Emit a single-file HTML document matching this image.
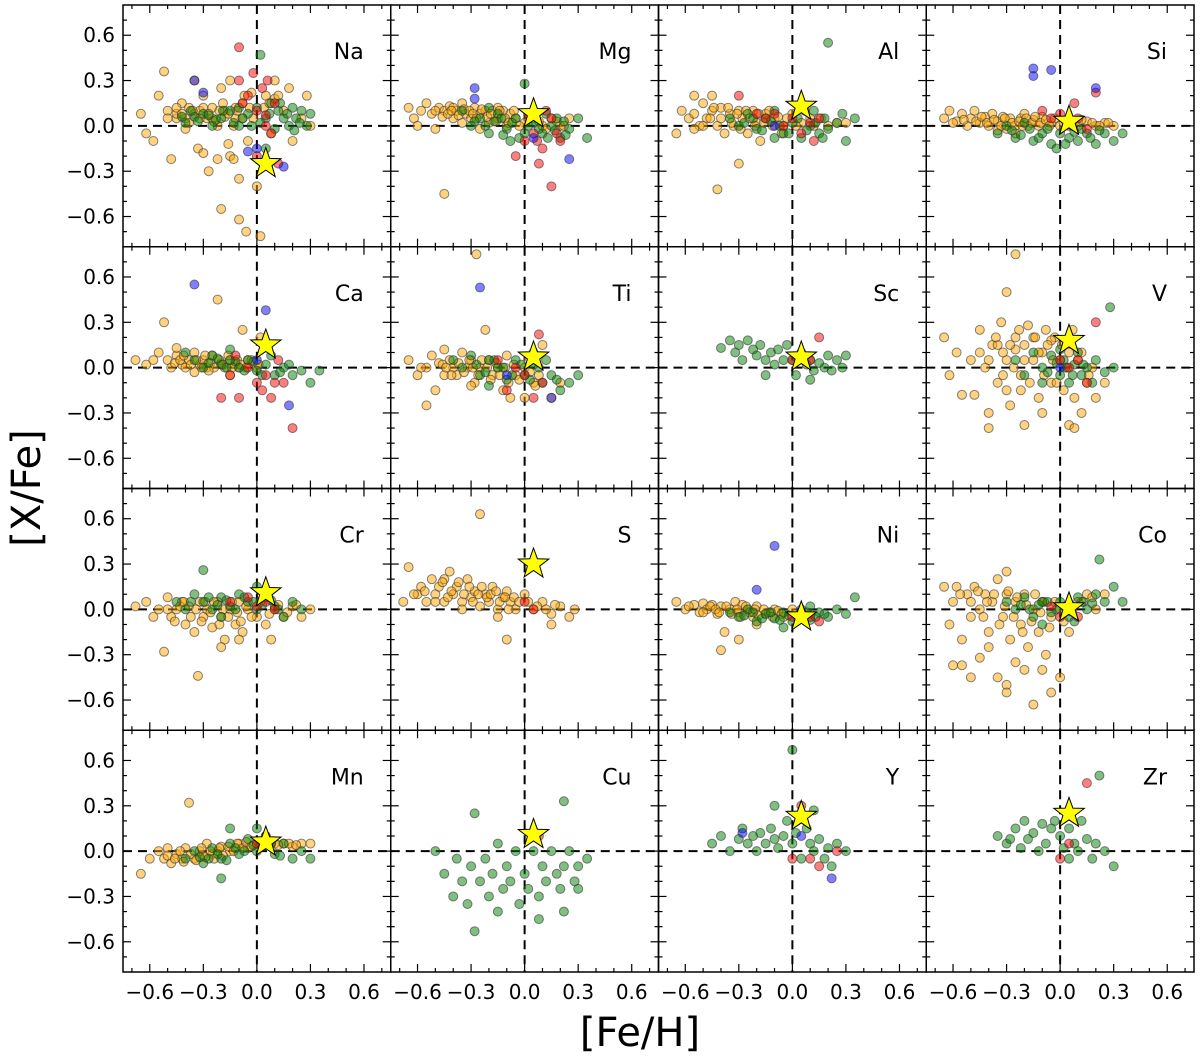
<!DOCTYPE html>
<html><head><meta charset="utf-8"><style>
body{margin:0;background:#fff}
svg{display:block;font-family:"DejaVu Sans","Liberation Sans",sans-serif}
</style></head><body>
<svg id="chart" width="1200" height="1057" viewBox="0 0 1200 1057" xmlns="http://www.w3.org/2000/svg">
<text x="40" y="488" font-size="40" text-anchor="middle" transform="rotate(-90 40 488)">[X/Fe]</text>
<text x="640" y="1046" font-size="40" text-anchor="middle">[Fe/H]</text>
</svg>
<script>
const elements = ["Na","Mg","Al","Si","Ca","Ti","Sc","V","Cr","S","Ni","Co","Mn","Cu","Y","Zr"];
const xTicks = [-0.6,-0.3,0.0,0.3,0.6];
const yTicks = [-0.6,-0.3,0.0,0.3,0.6];
const xTickLabels = ["\u22120.6","\u22120.3","0.0","0.3","0.6"];
const yTickLabels = ["\u22120.6","\u22120.3","0.0","0.3","0.6"];
const starX = [0.05,0.05,0.05,0.05,0.05,0.05,0.05,0.05,0.05,0.05,0.05,0.05,0.05,0.05,0.05,0.05];
const starY = [-0.25,0.08,0.13,0.03,0.15,0.07,0.07,0.18,0.11,0.30,-0.05,0.01,0.06,0.11,0.23,0.25];
// flat [x,y,...] per panel
const orange = [
[-0.65,0.08,-0.62,-0.05,-0.55,0.2,-0.52,0.36,-0.5,0.1,-0.45,0.05,-0.42,0.15,-0.4,-0.02,-0.38,0.12,-0.35,0.08,-0.33,-0.15,-0.3,0.2,-0.28,0.05,-0.27,-0.3,-0.25,0.12,-0.22,0.0,-0.2,0.25,-0.2,-0.55,-0.18,0.1,-0.15,-0.2,-0.15,0.3,-0.12,0.05,-0.1,-0.35,-0.1,-0.62,-0.08,0.15,-0.06,-0.7,-0.05,-0.1,-0.03,0.22,0.0,-0.4,0.02,-0.73,0.05,0.2,0.08,-0.05,0.1,0.3,0.15,0.1,0.18,0.25,0.2,-0.1,0.25,0.05,0.28,0.2,0.3,0.0,-0.48,-0.22,-0.58,-0.1,-0.35,0.3,-0.45,0.08,-0.4,0.05,-0.32,0.1,-0.25,0.05,-0.18,0.06,-0.12,0.12,-0.3,-0.18,-0.22,-0.22],
[-0.65,0.12,-0.62,0.05,-0.55,0.15,-0.52,0.08,-0.48,0.12,-0.45,0.1,-0.42,0.13,-0.4,0.05,-0.38,0.1,-0.35,0.15,-0.33,0.08,-0.3,0.05,-0.28,0.12,-0.25,0.08,-0.22,0.1,-0.2,0.02,-0.18,0.1,-0.15,0.05,-0.12,0.1,-0.1,0.0,-0.08,0.08,-0.05,0.05,0.0,0.02,0.05,0.05,0.1,0.0,0.15,0.05,0.2,0.0,0.25,0.05,-0.45,-0.45,-0.5,-0.02,-0.6,0.0,-0.35,0.02,-0.25,-0.02,-0.15,0.12,-0.4,0.12],
[-0.65,-0.05,-0.62,0.1,-0.58,0.05,-0.55,0.2,-0.52,0.0,-0.5,0.15,-0.48,0.05,-0.45,0.1,-0.42,0.0,-0.4,0.12,-0.38,-0.05,-0.35,0.08,-0.33,0.0,-0.3,0.1,-0.28,0.05,-0.25,-0.05,-0.22,0.1,-0.2,0.02,-0.18,-0.1,-0.15,0.08,-0.1,0.05,-0.05,0.0,0.0,0.08,0.05,0.02,0.1,0.05,0.2,0.0,0.3,0.02,-0.42,-0.42,-0.3,-0.25,-0.45,0.2,-0.55,-0.02],
[-0.65,0.05,-0.62,0.1,-0.58,0.03,-0.55,0.08,-0.52,0.0,-0.5,0.05,-0.48,0.1,-0.45,0.02,-0.42,0.06,-0.4,0.0,-0.38,0.08,-0.35,0.03,-0.32,0.06,-0.3,-0.02,-0.28,0.05,-0.25,0.0,-0.22,0.05,-0.2,0.08,-0.18,0.0,-0.15,0.04,-0.12,0.0,-0.1,0.06,-0.05,0.02,0.0,0.0,0.05,0.05,0.1,0.0,0.15,0.03,0.2,0.0,0.25,0.02,0.3,0.0,-0.25,-0.05,-0.35,-0.03],
[-0.68,0.05,-0.62,0.02,-0.55,0.1,-0.52,0.3,-0.5,0.05,-0.48,0.0,-0.45,0.08,-0.42,0.02,-0.4,0.0,-0.38,0.05,-0.35,0.1,-0.32,0.02,-0.3,0.05,-0.28,0.0,-0.25,0.08,-0.22,0.45,-0.2,0.03,-0.18,0.0,-0.15,0.05,-0.12,0.02,-0.1,0.0,-0.08,0.25,-0.05,0.05,0.0,0.0,0.02,0.2,-0.15,-0.05,-0.35,-0.03,-0.45,0.13],
[-0.65,0.05,-0.6,-0.05,-0.55,0.0,-0.52,0.08,-0.5,-0.15,-0.48,0.03,-0.45,-0.05,-0.42,0.05,-0.4,0.0,-0.38,-0.05,-0.35,0.1,-0.32,0.0,-0.3,0.05,-0.28,-0.1,-0.25,0.0,-0.22,0.25,-0.2,0.05,-0.18,-0.05,-0.15,0.0,-0.12,-0.15,-0.1,0.08,-0.08,-0.2,-0.05,-0.05,0.0,0.0,0.02,0.05,0.05,-0.1,0.08,-0.05,0.1,0.15,0.15,-0.2,0.2,-0.1,-0.27,0.75,-0.55,-0.25,-0.3,-0.12,0.0,-0.2,-0.45,0.12],
[],
[-0.65,0.2,-0.62,-0.05,-0.58,0.1,-0.55,-0.18,-0.5,0.05,-0.48,-0.18,-0.45,0.25,-0.42,0.0,-0.4,-0.3,-0.38,0.15,-0.35,-0.1,-0.33,0.3,-0.3,0.05,-0.28,-0.25,-0.25,0.2,-0.22,-0.05,-0.2,0.15,-0.2,-0.38,-0.18,0.28,-0.15,0.05,-0.12,-0.2,-0.1,0.1,-0.08,0.25,-0.05,-0.1,-0.03,0.2,0.0,0.05,0.02,-0.15,0.05,0.1,0.08,-0.2,0.1,0.05,0.12,-0.3,0.15,-0.1,0.18,0.0,0.2,-0.2,0.25,-0.1,-0.35,0.15,-0.3,0.5,-0.25,0.75,-0.4,-0.4,-0.1,-0.3,0.05,-0.38,0.08,-0.4,-0.15,0.2,-0.25,0.12,-0.05,0.18,-0.3,-0.15],
[-0.68,0.02,-0.62,0.05,-0.58,-0.05,-0.55,0.0,-0.52,-0.28,-0.5,0.08,-0.48,-0.05,-0.45,0.0,-0.42,0.05,-0.4,-0.1,-0.38,0.02,-0.35,-0.15,-0.32,0.05,-0.3,-0.05,-0.28,0.0,-0.25,-0.12,-0.22,0.05,-0.2,-0.05,-0.18,-0.2,-0.15,0.0,-0.12,-0.1,-0.1,0.05,-0.08,-0.15,-0.05,0.0,0.0,-0.05,0.05,-0.1,0.1,0.0,0.15,-0.05,0.2,0.02,0.25,-0.05,0.3,0.0,-0.33,-0.44,-0.2,-0.25,-0.1,-0.2,0.08,-0.2],
[-0.68,0.05,-0.65,0.28,-0.6,0.1,-0.58,0.15,-0.55,0.05,-0.52,0.2,-0.5,0.1,-0.48,0.15,-0.45,0.05,-0.42,0.25,-0.4,0.1,-0.38,0.15,-0.35,0.05,-0.32,0.2,-0.3,0.08,-0.28,0.12,-0.25,0.02,-0.22,0.1,-0.2,0.05,-0.18,0.15,-0.15,0.0,-0.12,0.08,-0.1,0.12,-0.08,0.05,-0.05,0.0,0.0,0.1,0.05,0.0,0.1,0.05,0.15,-0.03,0.2,0.02,0.25,-0.05,0.28,0.0,-0.25,0.63,-0.15,-0.05,-0.1,-0.2,-0.35,0.0,0.15,-0.1,-0.45,0.2],
[-0.65,0.05,-0.6,0.0,-0.55,0.03,-0.52,-0.02,-0.5,0.04,-0.48,0.0,-0.45,0.03,-0.42,-0.03,-0.4,0.02,-0.38,-0.15,-0.35,0.0,-0.32,0.05,-0.3,-0.02,-0.28,0.03,-0.25,0.0,-0.22,-0.05,-0.2,0.02,-0.15,-0.03,-0.1,0.0,-0.05,-0.05,0.0,0.0,0.1,-0.03,-0.4,-0.27,-0.3,-0.2,-0.2,-0.1],
[-0.65,0.15,-0.62,-0.1,-0.6,0.05,-0.58,0.15,-0.55,-0.2,-0.52,0.1,-0.5,-0.05,-0.48,0.15,-0.45,0.0,-0.42,0.1,-0.4,-0.15,-0.38,0.05,-0.35,0.2,-0.32,-0.05,-0.3,0.1,-0.28,-0.2,-0.25,0.05,-0.22,-0.1,-0.2,0.1,-0.18,-0.25,-0.15,0.0,-0.12,-0.15,-0.1,0.05,-0.08,-0.3,-0.05,-0.05,0.0,0.0,0.05,-0.15,0.1,0.05,0.15,0.1,0.2,0.0,0.25,0.1,-0.55,-0.37,-0.5,-0.45,-0.45,-0.32,-0.35,-0.45,-0.3,-0.5,-0.3,-0.55,-0.2,-0.4,-0.15,-0.63,-0.1,-0.4,-0.05,-0.55,0.0,-0.45,-0.25,-0.35,-0.4,-0.25,-0.6,-0.37,-0.3,0.25],
[-0.65,-0.15,-0.6,-0.05,-0.55,0.0,-0.52,-0.05,-0.5,0.02,-0.48,-0.08,-0.45,-0.02,-0.42,-0.05,-0.4,0.02,-0.38,0.32,-0.35,-0.05,-0.32,0.0,-0.3,-0.03,-0.28,0.05,-0.25,-0.02,-0.22,0.0,-0.2,0.03,-0.15,0.0,-0.1,0.05,-0.05,0.02,0.0,0.05,0.05,0.08,0.1,0.05,0.15,0.05,0.2,0.03,0.25,0.05,0.3,0.05],
[],[],[]
];
// additional dense-band points read from the crowded cores
const orangeCore = [
[-0.5,0.05,-0.45,0.12,-0.42,0.08,-0.38,0.02,-0.36,0.1,-0.32,0.05,-0.3,0.12,-0.27,0.08,-0.24,0.03,-0.21,0.1,-0.19,0.15,-0.16,0.08,-0.13,0.0,-0.11,0.1,-0.08,0.05,-0.07,0.2,-0.04,0.12,-0.02,0.05,0.04,0.12,0.07,0.15,0.1,0.18,0.12,0.2,-0.16,-0.12,-0.13,-0.22],
[-0.58,0.1,-0.5,0.1,-0.46,0.06,-0.43,0.08,-0.41,0.1,-0.37,0.07,-0.34,0.11,-0.31,0.1,-0.29,0.08,-0.27,0.05,-0.24,0.11,-0.21,0.06,-0.19,0.08,-0.16,0.03,-0.14,0.1,-0.11,0.05,-0.09,0.02,-0.06,0.1,-0.03,0.0,0.02,0.08,0.08,0.03,0.12,-0.02,0.18,0.03,0.22,0.0],
[-0.55,0.08,-0.5,0.0,-0.46,0.05,-0.44,0.12,-0.4,0.05,-0.36,0.12,-0.34,0.02,-0.31,0.08,-0.29,-0.02,-0.26,0.1,-0.24,0.05,-0.21,0.0,-0.19,0.08,-0.16,0.02,-0.13,0.1,-0.11,0.0,-0.08,0.06,-0.06,-0.05,-0.03,0.05,0.02,0.0,0.07,0.1,0.12,0.0,0.16,0.05,0.25,0.02],
[-0.6,0.02,-0.54,0.04,-0.47,0.03,-0.44,0.06,-0.41,0.02,-0.37,0.04,-0.33,0.0,-0.31,0.05,-0.27,0.02,-0.23,0.03,-0.21,0.0,-0.19,0.05,-0.16,0.02,-0.14,0.06,-0.11,0.02,-0.08,0.04,-0.06,0.0,-0.03,0.05,0.02,0.02,0.07,0.0,0.12,0.04,0.18,0.02,0.22,0.0,0.27,0.02],
[-0.58,0.05,-0.46,0.03,-0.43,0.05,-0.41,0.08,-0.37,0.02,-0.34,0.05,-0.31,0.0,-0.29,0.08,-0.26,0.03,-0.24,0.0,-0.21,0.05,-0.19,0.02,-0.16,0.08,-0.14,0.0,-0.11,0.05,-0.09,0.02,-0.06,0.0,-0.03,0.05,0.01,0.02,-0.27,-0.02],
[-0.58,0.0,-0.46,0.02,-0.44,0.0,-0.41,-0.05,-0.37,0.03,-0.34,-0.03,-0.31,0.05,-0.29,0.0,-0.26,-0.05,-0.24,0.05,-0.21,0.0,-0.19,-0.08,-0.16,0.03,-0.14,-0.05,-0.11,0.0,-0.09,-0.1,-0.06,0.02,-0.03,-0.08,0.03,-0.03,0.06,-0.12],
[],
[-0.45,0.1,-0.4,0.05,-0.36,0.2,-0.32,-0.05,-0.28,0.15,-0.26,0.0,-0.23,0.25,-0.2,0.05,-0.17,-0.1,-0.14,0.2,-0.12,0.1,-0.09,-0.05,-0.07,0.15,-0.04,0.05,-0.02,-0.1,0.01,0.15,0.04,0.0,0.07,0.25,0.12,0.1,0.16,-0.05,-0.22,-0.15,-0.32,0.1],
[-0.5,0.0,-0.46,-0.08,-0.43,0.02,-0.41,0.05,-0.37,-0.05,-0.34,0.0,-0.31,-0.08,-0.29,0.05,-0.26,-0.02,-0.24,0.05,-0.21,-0.1,-0.19,0.0,-0.16,-0.05,-0.14,0.05,-0.11,-0.02,-0.09,-0.08,-0.06,0.02,-0.03,-0.05,0.02,0.05,0.07,-0.03,0.12,0.03,0.17,-0.02,0.22,0.03],
[-0.62,0.1,-0.56,0.12,-0.5,0.05,-0.46,0.18,-0.43,0.08,-0.41,0.12,-0.37,0.18,-0.34,0.1,-0.31,0.15,-0.29,0.05,-0.26,0.1,-0.24,0.15,-0.21,0.08,-0.19,0.1,-0.16,0.12,-0.14,0.05,-0.11,0.08,-0.09,0.0,-0.06,0.08,-0.03,0.05,0.02,0.05,0.07,0.02,0.12,0.0,0.17,0.03],
[-0.58,0.02,-0.5,-0.02,-0.46,0.02,-0.43,0.0,-0.41,-0.02,-0.37,0.02,-0.34,-0.03,-0.31,0.0,-0.29,-0.05,-0.26,0.02,-0.24,-0.02,-0.21,0.0,-0.19,-0.04,-0.16,0.0,-0.13,-0.02,-0.11,-0.05,-0.08,-0.01,-0.06,-0.03],
[-0.56,0.1,-0.5,0.05,-0.46,0.12,-0.43,-0.05,-0.41,0.05,-0.37,0.1,-0.34,-0.1,-0.31,0.02,-0.29,0.12,-0.26,-0.05,-0.24,0.08,-0.21,-0.15,-0.19,0.03,-0.16,-0.08,-0.14,0.1,-0.11,-0.02,-0.09,0.05,-0.06,-0.12,-0.03,0.05,0.02,-0.08,0.07,0.0,0.12,0.05,0.18,0.08],
[-0.5,-0.03,-0.46,-0.05,-0.43,0.0,-0.41,-0.07,-0.37,-0.02,-0.34,-0.06,-0.31,0.02,-0.29,-0.04,-0.26,0.0,-0.24,-0.05,-0.21,0.02,-0.19,-0.03,-0.16,0.03,-0.13,0.0,-0.11,0.05,-0.08,0.02,-0.06,0.06,-0.03,0.03,0.02,0.04,0.08,0.06,0.12,0.04,0.18,0.05,0.22,0.04],
[],[],[]
];
const green = [
[-0.2,0.05,-0.15,0.1,-0.1,0.0,-0.05,0.08,0.0,0.12,0.02,0.47,0.05,0.05,0.08,0.15,0.1,-0.02,0.12,0.1,0.15,0.05,0.18,0.0,0.2,0.12,0.22,0.05,0.25,0.1,-0.25,0.0,-0.3,0.08,0.05,-0.15,-0.4,0.02,-0.35,0.06,-0.1,0.12,0.28,0.0,0.3,0.08,-0.42,0.06,-0.37,0.1,-0.33,0.03,-0.27,0.07,-0.23,0.04,-0.19,0.1,-0.13,0.02,-0.08,0.05,-0.03,0.0,0.02,0.02,0.07,0.08,0.13,0.15,0.17,0.08,0.21,-0.03,0.24,0.02],
[-0.35,0.1,-0.3,0.0,-0.25,0.05,-0.2,-0.05,-0.15,0.08,-0.1,-0.02,-0.05,0.05,0.0,-0.05,0.0,0.28,0.05,0.02,0.1,-0.05,0.12,0.08,0.15,0.0,0.18,0.05,0.2,-0.08,0.22,0.03,0.25,-0.02,0.3,0.05,0.35,-0.08,-0.2,0.12,-0.08,-0.1,-0.28,0.03,-0.22,0.0,-0.17,0.03,-0.12,-0.06,-0.07,0.02,-0.03,-0.08,0.02,0.0,0.08,-0.02,0.13,-0.08,0.17,-0.03,0.23,-0.06,-0.13,0.05],
[-0.35,0.05,-0.3,0.0,-0.25,0.08,-0.2,-0.02,-0.15,0.05,-0.1,0.1,-0.05,-0.05,0.0,0.02,0.05,-0.08,0.1,0.0,0.12,0.1,0.15,-0.05,0.18,0.05,0.2,-0.02,0.25,0.02,0.3,-0.1,0.35,0.05,0.2,0.55,-0.1,-0.08,0.28,0.08,-0.27,0.02,-0.22,0.05,-0.17,-0.03,-0.12,0.03,-0.07,0.0,-0.02,-0.05,0.03,0.05,0.08,-0.03,0.13,0.02,0.17,-0.08],
[-0.35,-0.05,-0.3,0.0,-0.25,-0.08,-0.2,0.02,-0.15,-0.1,-0.1,-0.05,-0.05,-0.12,0.0,-0.05,0.05,-0.08,0.1,-0.1,0.15,-0.05,0.2,-0.12,0.25,-0.05,0.3,-0.1,0.35,-0.05,-0.02,-0.15,0.12,-0.02,-0.27,-0.03,-0.22,-0.06,-0.17,-0.02,-0.12,-0.08,-0.07,-0.02,0.03,-0.12,0.08,-0.04,0.17,-0.08,0.22,-0.03],
[-0.4,0.1,-0.35,0.05,-0.3,0.0,-0.25,0.08,-0.2,0.02,-0.15,0.05,-0.1,0.0,-0.05,0.05,0.0,-0.02,0.05,0.02,0.1,-0.05,0.15,0.0,0.2,-0.05,0.25,-0.02,0.3,-0.1,0.35,-0.02,-0.15,0.12,0.08,0.08,-0.27,0.03,-0.22,0.06,-0.17,0.0,-0.12,0.04,-0.07,-0.02,-0.02,0.04,0.03,-0.05,0.13,-0.03,0.18,0.02],
[-0.4,0.05,-0.35,0.0,-0.3,0.08,-0.25,-0.05,-0.2,0.05,-0.15,0.0,-0.1,-0.08,-0.05,0.05,0.0,-0.05,0.05,0.02,0.1,-0.1,0.15,-0.05,0.2,-0.15,0.25,-0.1,0.3,-0.05,-0.2,-0.12,0.12,0.05,-0.27,0.02,-0.22,-0.03,-0.17,0.05,-0.12,0.0,-0.07,-0.05,-0.02,0.02,0.03,-0.08,0.08,0.0,0.18,-0.08],
[-0.4,0.13,-0.35,0.18,-0.32,0.1,-0.3,0.15,-0.28,0.05,-0.25,0.18,-0.22,0.12,-0.2,0.08,-0.18,0.15,-0.15,0.05,-0.12,0.1,-0.1,0.02,-0.08,0.12,-0.05,0.05,-0.03,0.15,0.0,0.05,0.02,-0.05,0.05,0.1,0.08,0.02,0.1,0.05,0.12,-0.02,0.15,0.03,0.18,0.0,0.2,0.08,0.22,-0.02,0.25,0.05,0.28,0.0,0.3,0.08,-0.15,-0.05,0.1,-0.08],
[-0.25,0.05,-0.2,-0.05,-0.15,0.1,-0.1,0.0,-0.05,0.08,0.0,-0.05,0.02,0.05,0.05,-0.1,0.08,0.02,0.1,0.1,0.12,-0.05,0.15,0.0,0.18,-0.1,0.2,0.05,0.25,-0.03,0.3,0.0,0.28,0.4,-0.1,-0.1,0.0,0.12,-0.07,-0.03,-0.02,0.03,0.03,0.0,0.07,-0.05,0.13,0.02],
[-0.45,0.05,-0.4,0.0,-0.35,0.1,-0.3,0.05,-0.3,0.26,-0.25,0.0,-0.2,0.08,-0.15,0.02,-0.1,0.1,-0.05,0.05,0.0,0.0,0.05,0.08,0.1,0.02,0.15,-0.05,0.2,0.05,0.25,0.0,-0.2,-0.05,0.0,0.15,-0.37,0.05,-0.27,0.08,-0.22,0.03,-0.17,0.06,-0.12,0.0,-0.07,0.08,-0.02,0.05,0.03,0.03,0.08,0.06,0.12,0.0],
[],
[-0.35,-0.02,-0.3,-0.05,-0.25,0.0,-0.2,-0.08,-0.15,-0.03,-0.1,-0.06,-0.05,-0.02,0.0,-0.08,0.05,-0.04,0.1,-0.07,0.15,-0.02,0.2,-0.05,0.25,0.0,0.3,-0.03,0.35,0.08,-0.05,-0.12,0.1,0.02,-0.27,-0.04,-0.22,-0.02,-0.17,-0.06,-0.12,-0.02,-0.07,-0.07,-0.02,-0.04,0.03,-0.06,0.08,-0.02,0.13,-0.05,0.18,-0.03],
[-0.3,0.05,-0.25,0.0,-0.2,0.08,-0.15,-0.05,-0.1,0.05,-0.05,-0.02,0.0,0.05,0.05,-0.05,0.1,0.08,0.15,0.0,0.2,0.1,0.25,0.05,0.3,0.15,0.35,0.05,0.22,0.33,-0.1,-0.1,0.08,-0.08,-0.22,0.03,-0.17,0.0,-0.12,0.03,-0.07,0.05,-0.02,0.0,0.03,0.02,0.13,0.05,0.18,0.04],
[-0.4,-0.05,-0.35,0.0,-0.3,-0.08,-0.25,0.02,-0.2,-0.05,-0.15,0.05,-0.1,-0.02,-0.05,0.08,0.0,0.0,0.05,0.1,0.1,-0.02,0.15,0.05,0.2,-0.05,0.25,0.0,-0.2,-0.18,0.0,0.15,-0.15,0.15,0.3,-0.05,-0.32,-0.04,-0.27,-0.05,-0.22,-0.02,-0.17,-0.06,-0.12,0.02,-0.07,0.0,-0.02,0.04,0.03,0.03,0.08,0.05,0.13,-0.03],
[-0.5,0.0,-0.45,-0.15,-0.4,-0.3,-0.38,-0.05,-0.35,-0.2,-0.32,-0.35,-0.3,-0.1,-0.28,0.25,-0.25,-0.2,-0.22,-0.05,-0.2,-0.3,-0.18,-0.15,-0.15,-0.4,-0.15,0.05,-0.12,-0.25,-0.1,-0.1,-0.08,-0.2,-0.05,0.0,-0.03,-0.35,0.0,-0.15,0.02,-0.25,0.05,0.0,0.08,-0.3,0.1,-0.1,0.12,-0.2,0.15,0.0,0.18,-0.15,0.2,-0.25,0.22,-0.1,0.25,0.0,0.28,-0.2,0.3,-0.1,0.35,-0.05,0.22,0.33,-0.28,-0.53,0.08,-0.45,0.3,-0.25,0.22,-0.4],
[-0.45,0.05,-0.4,0.1,-0.35,0.0,-0.3,0.08,-0.28,0.15,-0.25,0.05,-0.22,0.1,-0.2,0.0,-0.18,0.12,-0.15,0.05,-0.12,0.15,-0.1,0.08,-0.08,0.02,-0.05,0.1,-0.03,0.2,0.0,0.05,0.0,0.67,0.02,0.12,0.05,-0.05,0.08,0.15,0.1,0.05,0.12,0.0,0.15,0.08,0.18,-0.05,0.2,0.02,0.22,-0.1,0.25,0.05,0.3,0.0,-0.1,0.3,0.12,0.27],
[-0.35,0.1,-0.3,0.05,-0.25,0.15,-0.22,0.02,-0.2,0.2,-0.18,0.08,-0.15,0.12,-0.12,0.0,-0.1,0.18,-0.08,0.05,-0.05,0.15,-0.03,0.2,0.0,0.1,0.02,0.02,0.05,0.15,0.08,0.05,0.1,0.0,0.12,0.2,0.15,0.08,0.18,-0.05,0.2,0.05,0.22,0.5,0.25,0.0,0.3,-0.1,0.05,-0.05,-0.28,0.08]
];
const red = [
[-0.1,0.3,-0.05,0.2,-0.1,0.52,0.0,0.1,0.03,0.25,0.05,0.0,0.08,-0.05,-0.02,0.35,0.1,0.15,0.0,-0.2,0.12,-0.25,0.05,0.07,-0.08,0.15,0.06,0.3],
[-0.05,-0.2,0.0,-0.1,0.05,-0.05,0.1,-0.15,0.12,0.1,0.15,0.05,0.18,-0.05,0.2,-0.1,0.15,-0.4,0.08,-0.25,0.02,0.05,0.07,-0.1],
[-0.15,0.05,-0.1,0.08,-0.05,0.0,0.0,0.05,0.05,-0.05,0.1,0.02,0.12,-0.1,0.15,0.05,-0.3,0.2,-0.2,0.08],
[-0.1,0.1,-0.05,0.05,0.0,0.08,0.05,0.0,0.1,0.05,0.15,-0.02,0.08,0.15,0.2,0.22],
[-0.2,-0.2,-0.15,-0.05,-0.1,-0.2,-0.05,0.0,0.0,-0.1,0.03,-0.15,0.05,-0.05,0.08,-0.2,0.1,-0.1,0.12,0.05,0.15,-0.1,0.2,-0.4,-0.12,0.08],
[-0.1,-0.15,-0.05,0.0,0.0,-0.05,0.05,0.1,0.08,0.22,0.1,-0.1,0.05,-0.2,-0.15,0.05],
[0.0,0.05,0.1,0.05,0.15,0.2],
[0.05,0.0,0.1,0.05,0.15,-0.1,0.0,0.05,0.2,0.3],
[-0.15,0.05,-0.05,0.08,0.0,0.02,0.05,0.05,0.1,0.0],
[0.0,0.05,0.05,0.0],
[0.05,-0.02,0.1,-0.05,0.15,-0.08,0.0,-0.05],
[0.0,-0.05,0.05,0.0,0.1,-0.05,-0.05,0.02],
[0.0,0.05,0.05,0.1],
[0.08,0.1],
[0.0,-0.05,0.05,0.3,0.15,-0.1,0.1,-0.05,0.25,0.0],
[0.15,0.45,0.0,-0.05,0.05,0.05]
];
const blue = [
[-0.35,0.3,-0.3,0.22,0.15,-0.27,0.0,-0.15,-0.05,-0.17],
[-0.28,0.25,-0.28,0.18,0.25,-0.22,0.05,-0.08],
[-0.1,0.0],
[-0.15,0.38,-0.15,0.33,0.2,0.25,-0.05,0.37],
[-0.35,0.55,0.05,0.38,0.18,-0.25,0.0,0.05],
[-0.25,0.53,-0.1,-0.05,0.15,-0.2],
[],
[0.0,0.0],
[],
[],
[-0.1,0.42,-0.2,0.13,0.05,0.0],
[],
[],
[],
[-0.28,0.12,0.05,0.1,0.22,-0.18],
[]
];

const svg = document.getElementById('chart');
const NS = 'http://www.w3.org/2000/svg';
const X0 = 123, Y0 = 5, PW = 267.75, PH = 241.75;
const XMIN = -0.75, XMAX = 0.75, YMIN = -0.8, YMAX = 0.8;
function mk(tag, attrs, parent){ const e = document.createElementNS(NS, tag); for (const k in attrs) e.setAttribute(k, attrs[k]); (parent||svg).appendChild(e); return e; }
const colors = {orange:'#ffa500', green:'#008000', red:'#ff0000', blue:'#0000ff'};
const series = [['orange',orange],['orange',orangeCore],['green',green],['red',red],['blue',blue]];

elements.forEach((el, i) => {
  const c = i % 4, r = Math.floor(i / 4);
  const px0 = X0 + c * PW, py0 = Y0 + r * PH;
  const sx = v => px0 + (v - XMIN) / (XMAX - XMIN) * PW;
  const sy = v => py0 + (YMAX - v) / (YMAX - YMIN) * PH;
  const g = mk('g', {});
  
  
  const clipId = 'clip' + i;
  const cp = mk('clipPath', {id: clipId}, g);
  mk('rect', {x: px0, y: py0, width: PW, height: PH}, cp);
  const hl = mk('line', {x1: px0, x2: px0 + PW, y1: sy(0), y2: sy(0), stroke: '#000', 'stroke-width': 2, 'stroke-dasharray': '9 6'}, g);
  
  
  const vl = mk('line', {y1: py0, y2: py0 + PH, x1: sx(0), x2: sx(0), stroke: '#000', 'stroke-width': 2, 'stroke-dasharray': '9 6'}, g);
  
  
  const pts = mk('g', {'clip-path': 'url(#' + clipId + ')'}, g);
  series.forEach(([name, arr]) => {
    const d = arr[i] || [];
    for (let k = 0; k + 1 < d.length; k += 2) {
      const p = mk('circle', {cx: sx(d[k]), cy: sy(d[k+1]), r: 4.5, fill: colors[name], 'fill-opacity': 0.5, stroke: '#333', 'stroke-opacity': 0.6, 'stroke-width': 1}, pts);
      
      
    }
  });
  const cx = sx(starX[i]), cy = sy(starY[i]);
  let sp = '';
  for (let k = 0; k < 10; k++) {
    const a = -Math.PI / 2 + k * Math.PI / 5;
    const rr = k % 2 ? 6.5 : 16;
    sp += (cx + rr * Math.cos(a)).toFixed(1) + ',' + (cy + rr * Math.sin(a)).toFixed(1) + ' ';
  }
  const st = mk('polygon', {points: sp, fill: '#ffff00', stroke: '#000', 'stroke-width': 1}, g);
  
  
  mk('rect', {x: px0, y: py0, width: PW, height: PH, fill: 'none', stroke: '#000', 'stroke-width': 1.5}, g);
  for (let v = -7; v <= 7; v++) {
    const x = sx(v / 10), L = (v % 3 === 0) ? 8 : 4;
    mk('line', {x1: x, x2: x, y1: py0 + PH, y2: py0 + PH - L, stroke: '#000', 'stroke-width': 1.2}, g);
    mk('line', {x1: x, x2: x, y1: py0, y2: py0 + L, stroke: '#000', 'stroke-width': 1.2}, g);
  }
  for (let v = -7; v <= 7; v++) {
    const y = sy(v / 10), L = (v % 3 === 0) ? 8 : 4;
    mk('line', {x1: px0, x2: px0 + L, y1: y, y2: y, stroke: '#000', 'stroke-width': 1.2}, g);
    mk('line', {x1: px0 + PW, x2: px0 + PW - L, y1: y, y2: y, stroke: '#000', 'stroke-width': 1.2}, g);
  }
  const lab = mk('text', {x: px0 + PW - 27, y: py0 + 54, 'font-size': 22, 'text-anchor': 'end'}, g);
  lab.textContent = el;
  
  
  if (c === 0) {
    yTicks.forEach((v, k) => {
      const t = mk('text', {x: px0 - 8, y: sy(v) + 7, 'font-size': 20, 'text-anchor': 'end'}, g);
      t.textContent = yTickLabels[k];
      
      
    });
  }
  if (r === 3) {
    xTicks.forEach((v, k) => {
      const t = mk('text', {x: sx(v), y: py0 + PH + 27, 'font-size': 20, 'text-anchor': 'middle'}, g);
      t.textContent = xTickLabels[k];
      
      
    });
  }
});
</script>
</body></html>
